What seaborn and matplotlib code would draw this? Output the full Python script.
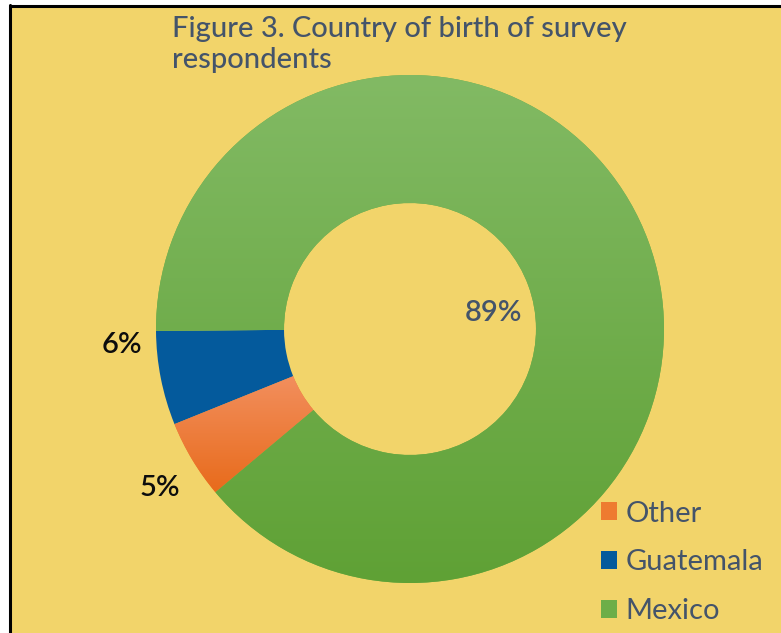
import numpy as np
import matplotlib
matplotlib.use("Agg")
import matplotlib.pyplot as plt
import seaborn as sns
from matplotlib.patches import Rectangle
from matplotlib.lines import Line2D
from matplotlib.colors import LinearSegmentedColormap

# Data
countries = ["Other", "Guatemala", "Mexico"]
shares = [5, 6, 89]
share_labels = ["5%", "6%", "89%"]
colors = ["#EE7B30", "#045A9C", "#6DAE48"]
# top / bottom shades for the gradient fills
gradients = {"Other": ("#F28F5E", "#E86B1B"), "Mexico": ("#82BA64", "#5FA135")}

sns.set_theme(style="white")
plt.rcParams["font.family"] = ["Lato", "DejaVu Sans"]

W, H = 781, 633
fig = plt.figure(figsize=(W / 100, H / 100), dpi=100, facecolor="white")

# yellow panel with black left/top border
fig.patches.append(Rectangle((10 / W, 0), 1 - 10 / W, 1 - 6 / H, transform=fig.transFigure,
                             facecolor="#F2D46A", edgecolor="none", zorder=-2))
fig.add_artist(Line2D([10 / W, 10 / W], [0, 1 - 5 / H], color="black", lw=2.2,
                      transform=fig.transFigure, zorder=-1))
fig.add_artist(Line2D([10 / W, 1], [1 - 6 / H, 1 - 6 / H], color="black", lw=2.2,
                      transform=fig.transFigure, zorder=-1))

ax = fig.add_axes([0, 0, 1, 1])
ax.set_zorder(1)
ax.set_facecolor("none")

wedges, _ = ax.pie(shares, colors=colors, startangle=-140, counterclock=False, radius=1,
                   wedgeprops=dict(width=0.504, edgecolor="none"))

# gradient fills clipped to wedges
for w, name in zip(wedges, countries):
    if name in gradients:
        cmap = LinearSegmentedColormap.from_list(name, list(gradients[name]))
        ext = w.get_path().get_extents()
        img = ax.imshow(np.linspace(0, 1, 256).reshape(-1, 1), cmap=cmap, aspect="auto",
                        extent=[ext.x0, ext.x1, ext.y0, ext.y1], origin="upper", zorder=2)
        img.set_clip_path(w)

# percentage labels
lbl = dict(ha="center", va="center", fontsize=21, fontweight="semibold", zorder=5)
ax.text(0.327, 0.063, share_labels[2], color="#44546A", **lbl)
ax.text(-1.134, -0.063, share_labels[1], color="#0D0D0D", **lbl)
ax.text(-0.984, -0.626, share_labels[0], color="#0D0D0D", **lbl)

ax.set_xlim(-410 / 254, (W - 410) / 254)
ax.set_ylim(-(H - 329) / 254, 329 / 254)
ax.set_aspect("auto")
ax.axis("off")

fig.text(172 / W, 1 - 16 / H, "Figure 3. Country of birth of survey\nrespondents", ha="left", va="top",
         fontsize=21, fontweight="medium", color="#44546A", linespacing=1.25)

fig.legend(wedges, countries, loc="upper left", bbox_to_anchor=(586 / W, 1 - 486 / H),
           bbox_transform=fig.transFigure, frameon=False, fontsize=21, labelcolor="#44546A",
           handlelength=0.55, handleheight=0.55, handletextpad=0.3, labelspacing=0.78, borderpad=0)

fig.savefig("out.png", dpi=100, facecolor="white")
